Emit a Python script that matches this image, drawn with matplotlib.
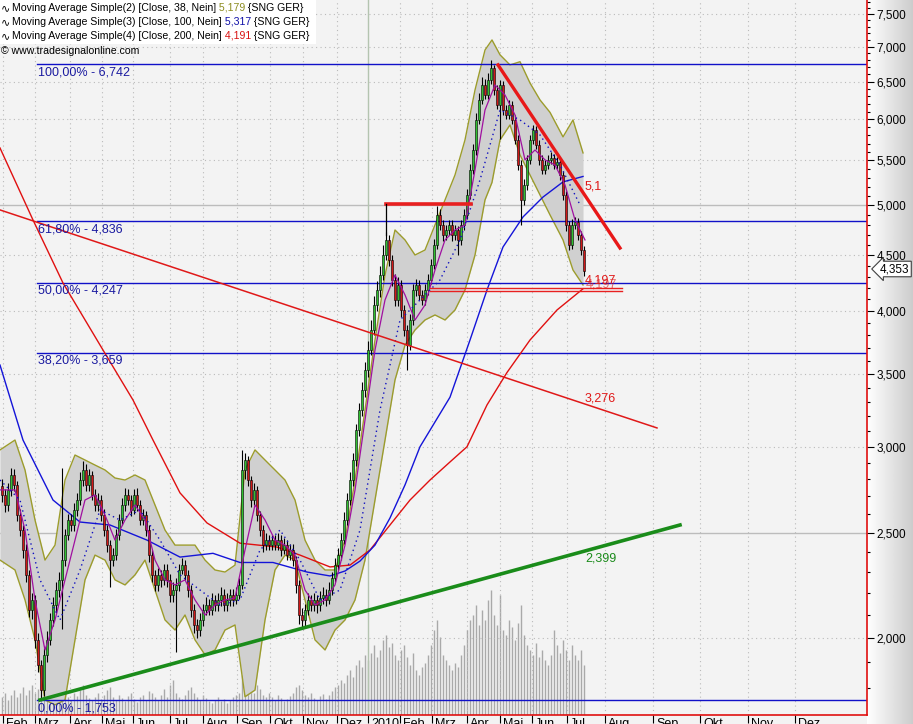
import numpy as np
import matplotlib
matplotlib.use('Agg')
import matplotlib.pyplot as plt
from matplotlib.ticker import FixedLocator, NullFormatter, FuncFormatter
from matplotlib.patches import Rectangle

plt.rcParams['font.family'] = ['Liberation Sans', 'DejaVu Sans']

# ---------------- data ----------------
month_labels = ['Feb', 'Mrz', 'Apr', 'Mai', 'Jun', 'Jul', 'Aug', 'Sep', 'Okt', 'Nov', 'Dez',
                '2010', 'Feb', 'Mrz', 'Apr', 'Mai', 'Jun', 'Jul', 'Aug', 'Sep', 'Okt', 'Nov', 'Dez']
month_pos = [0.33, 11, 22.67, 33.33, 43.67, 56, 67, 78.33, 89.33, 100.33, 111.67,
             122, 132.67, 143.33, 155, 166, 176.67, 188.33, 201, 217, 232.67, 248.67, 264.33]

opens = [2760, 2708, 2651, 2737, 2825, 2766, 2595, 2514, 2410, 2286,
         2122, 2168, 1992, 1889, 1791, 1930, 1992, 2078, 2145, 2214,
         2262, 2359, 2487, 2568, 2541, 2623, 2679, 2795, 2855, 2766,
         2825, 2708, 2651, 2679, 2595, 2514, 2435, 2359, 2384, 2487,
         2568, 2651, 2708, 2679, 2623, 2708, 2651, 2568, 2595, 2514,
         2384, 2286, 2238, 2286, 2262, 2310, 2262, 2191, 2214, 2238,
         2310, 2334, 2286, 2214, 2122, 2056, 2034, 2078, 2122, 2145,
         2122, 2168, 2145, 2168, 2191, 2145, 2168, 2191, 2168, 2191,
         2238, 2855, 2916, 2795, 2679, 2737, 2595, 2514, 2435, 2461,
         2435, 2461, 2435, 2461, 2410, 2435, 2384, 2410, 2359, 2238,
         2100, 2078, 2122, 2168, 2145, 2168, 2145, 2177, 2191, 2168,
         2214, 2272, 2334, 2384, 2461, 2568, 2679, 2795, 2916, 3107,
         3242, 3382, 3528, 3681, 3841, 4050, 4181, 4315, 4502, 4648,
         4455, 4270, 4093, 4225, 4007, 3841, 3720, 3923, 4181, 4225,
         4137, 4093, 4181, 4270, 4408, 4599, 4901, 4798, 4697, 4747,
         4798, 4697, 4747, 4648, 4798, 4901, 5113, 5391, 5624, 5993,
         6253, 6454, 6319, 6523, 6691, 6386, 6186, 6454, 6121, 6057,
         6186, 5993, 5745, 5448, 5059, 5222, 5507, 5745, 5868, 5684,
         5507, 5391, 5448, 5507, 5530, 5448, 5483, 5334, 5113, 4798,
         4599, 4798, 4829, 4697, 4550]
closes = [2708, 2651, 2737, 2825, 2766, 2595, 2514, 2410, 2286, 2122,
          2168, 1992, 1889, 1791, 1930, 1992, 2078, 2145, 2214, 2262,
          2359, 2487, 2568, 2541, 2623, 2679, 2795, 2855, 2766, 2825,
          2708, 2651, 2679, 2595, 2514, 2435, 2359, 2384, 2487, 2568,
          2651, 2708, 2679, 2623, 2708, 2651, 2568, 2595, 2514, 2384,
          2286, 2238, 2286, 2262, 2310, 2262, 2191, 2214, 2238, 2310,
          2334, 2286, 2214, 2122, 2056, 2034, 2078, 2122, 2145, 2122,
          2168, 2145, 2168, 2191, 2145, 2168, 2191, 2168, 2191, 2238,
          2855, 2916, 2795, 2679, 2737, 2595, 2514, 2435, 2461, 2435,
          2461, 2435, 2461, 2410, 2435, 2384, 2410, 2359, 2238, 2100,
          2078, 2122, 2168, 2145, 2168, 2145, 2177, 2191, 2168, 2214,
          2272, 2334, 2384, 2461, 2568, 2679, 2795, 2916, 3107, 3242,
          3382, 3528, 3681, 3841, 4050, 4181, 4315, 4502, 4648, 4455,
          4270, 4093, 4225, 4007, 3841, 3720, 3923, 4181, 4225, 4137,
          4093, 4181, 4270, 4408, 4599, 4901, 4798, 4697, 4747, 4798,
          4697, 4747, 4648, 4798, 4901, 5113, 5391, 5624, 5993, 6253,
          6454, 6319, 6523, 6691, 6386, 6186, 6454, 6121, 6057, 6186,
          5993, 5745, 5448, 5059, 5222, 5507, 5745, 5868, 5684, 5507,
          5391, 5448, 5507, 5530, 5448, 5483, 5334, 5113, 4798, 4599,
          4798, 4829, 4697, 4550, 4353]
highs = [2800, 2740, 2780, 2870, 2860, 2790, 2630, 2540, 2440, 2310,
         2200, 2190, 2020, 1910, 1960, 2030, 2110, 2180, 2250, 2300,
         2870, 2520, 2600, 2600, 2660, 2720, 2840, 2910, 2890, 2860,
         2850, 2740, 2720, 2710, 2630, 2540, 2460, 2420, 2520, 2600,
         2690, 2750, 2740, 2710, 2740, 2750, 2680, 2630, 2620, 2540,
         2410, 2310, 2320, 2310, 2340, 2340, 2290, 2250, 2270, 2340,
         2370, 2360, 2310, 2240, 2150, 2080, 2110, 2150, 2180, 2170,
         2200, 2190, 2200, 2230, 2220, 2200, 2220, 2220, 2230, 2270,
         2980, 2960, 2940, 2820, 2780, 2760, 2620, 2540, 2500, 2490,
         2490, 2490, 2500, 2490, 2470, 2460, 2440, 2440, 2380, 2260,
         2130, 2150, 2200, 2190, 2200, 2190, 2210, 2230, 2220, 2250,
         2300, 2370, 2420, 2500, 2610, 2720, 2840, 2960, 3150, 3290,
         3440, 3590, 3750, 3920, 4130, 4260, 4400, 4600, 4730, 4700,
         4500, 4320, 4300, 4270, 4050, 3880, 3970, 4230, 4280, 4270,
         4180, 4230, 4320, 4460, 4660, 4990, 4960, 4850, 4800, 4850,
         4850, 4800, 4790, 4850, 4960, 5180, 5460, 5700, 6080, 6340,
         6560, 6540, 6620, 6800, 6740, 6450, 6520, 6510, 6180, 6250,
         6240, 6050, 5800, 5500, 5290, 5570, 5810, 5930, 5920, 5740,
         5560, 5510, 5570, 5600, 5580, 5540, 5530, 5380, 5160, 4840,
         4860, 4880, 4870, 4740, 4590]
lows = [2670, 2610, 2620, 2700, 2730, 2560, 2480, 2370, 2250, 2090,
        2080, 1960, 1860, 1753, 1770, 1900, 1970, 2050, 2110, 2180,
        2040, 2330, 2460, 2510, 2510, 2590, 2650, 2760, 2730, 2730,
        2680, 2620, 2620, 2560, 2480, 2400, 2230, 2330, 2360, 2460,
        2540, 2620, 2650, 2590, 2600, 2620, 2540, 2540, 2480, 2350,
        2250, 2210, 2210, 2230, 2240, 2230, 2160, 2160, 1940, 2210,
        2290, 2260, 2180, 2090, 2020, 2000, 2010, 2050, 2100, 2100,
        2100, 2120, 2120, 2140, 2120, 2120, 2140, 2140, 2150, 2170,
        2220, 2800, 2760, 2640, 2650, 2560, 2480, 2400, 2410, 2410,
        2410, 2410, 2410, 2380, 2390, 2360, 2360, 2330, 2200, 2060,
        2040, 2050, 2100, 2120, 2120, 2110, 2120, 2150, 2140, 2150,
        2190, 2250, 2310, 2360, 2440, 2540, 2650, 2760, 2880, 3070,
        3200, 3330, 3480, 3640, 3800, 4000, 4120, 4270, 4450, 4400,
        4220, 4040, 4040, 3950, 3790, 3530, 3680, 3880, 4130, 4090,
        4050, 4050, 4140, 4230, 4370, 4560, 4750, 4640, 4650, 4700,
        4640, 4650, 4500, 4600, 4750, 4860, 5070, 5340, 5570, 5940,
        6200, 6260, 6270, 6470, 6320, 6130, 5750, 6060, 6000, 6000,
        5940, 5690, 5390, 4800, 5000, 5170, 5460, 5690, 5630, 5450,
        5340, 5340, 5400, 5460, 5400, 5400, 5280, 5060, 4740, 4550,
        4560, 4760, 4650, 4500, 4310]
volume = [180, 220, 150, 200, 250, 180, 220, 280, 200, 250,
          300, 220, 260, 350, 280, 200, 240, 180, 220, 160,
          200, 300, 180, 150, 220, 190, 250, 300, 200, 170,
          150, 180, 220, 160, 200, 250, 280, 180, 150, 200,
          170, 140, 190, 220, 160, 130, 180, 200, 150, 240,
          220, 180, 150, 200, 260, 180, 300, 350, 220, 180,
          160, 200, 250, 280, 220, 180, 150, 200, 170, 140,
          120, 150, 180, 140, 160, 120, 150, 180, 200, 220,
          400, 350, 280, 250, 220, 300, 260, 200, 180, 220,
          180, 150, 200, 170, 140, 160, 190, 220, 280, 300,
          250, 200, 180, 220, 170, 150, 190, 210, 160, 200,
          240, 280, 300, 350, 320, 400, 450, 380, 500, 550,
          480, 600, 550, 620, 700, 580, 650, 750, 800, 680,
          720, 600, 550, 650, 700, 580, 500, 620, 450, 400,
          480, 520, 600, 700, 850, 950, 780, 600, 550, 500,
          450, 520, 480, 600, 700, 850, 950, 1000, 1100, 900,
          1050, 950, 1150, 1250, 1000, 900, 1200, 850, 800, 950,
          880, 750, 920, 1100, 800, 700, 650, 600, 720, 580,
          650, 550, 500, 600, 850, 700, 620, 750, 650, 550,
          700, 600, 550, 650, 500]

# moving averages / bands (sampled along the bar axis)
ma200_x = [-0.67, 10.33, 20.33, 33.67, 43.67, 50.33, 59.33, 68.33, 79.33, 91.67, 99.33, 109.33,
           116, 122.67, 129.33, 136, 142.67, 149.33, 155, 161.67, 168.33, 176, 185, 193.67]
ma200_y = [5648, 4849, 4243, 3681, 3311, 3042, 2720, 2552, 2445, 2425, 2384, 2325,
           2334, 2410, 2541, 2679, 2795, 2904, 2999, 3277, 3510, 3760, 4007, 4191]
ma100_x = [-0.67, 7, 17, 26, 36, 48.33, 59.33, 70.33, 79.33, 90.33, 101.67, 109.33, 114.33,
           119.33, 124.33, 129.33, 134.33, 139.33, 149.33, 156, 161.67, 167, 173.67, 180.33, 187, 193.67]
ma100_y = [3566, 3042, 2679, 2557, 2541, 2461, 2374, 2393, 2347, 2347, 2300, 2281, 2305,
           2354, 2435, 2579, 2766, 2999, 3331, 3760, 4181, 4579, 4880, 5090, 5256, 5317]
fast_x = [-0.67, 4.33, 7.67, 11, 14.33, 17.67, 21, 24.33, 27.67, 31, 34.33, 37.67, 41, 44.33, 47.67,
          51, 54.33, 57.67, 61, 64.33, 67.67, 71, 74.33, 77.67, 81, 84.33, 87.67, 91, 94.33, 97.67,
          101, 104.33, 107.67, 111, 114.33, 117.67, 121, 124.33, 127.67, 131, 134.33, 137.67, 141,
          144.33, 147.67, 151, 154.33, 157.67, 161, 164.33, 167.67, 171, 174.33, 177.67, 181,
          184.33, 187.67, 191, 194.33]
fast_y = [2737, 2737, 2514, 2168, 1950, 2078, 2262, 2461, 2679, 2708, 2595, 2461, 2568, 2651, 2568,
          2359, 2262, 2238, 2262, 2168, 2100, 2145, 2168, 2177, 2410, 2651, 2568, 2461, 2435, 2384,
          2214, 2145, 2168, 2238, 2435, 2737, 3174, 3681, 4093, 4315, 4137, 3923, 4050,
          4361, 4648, 4747, 4798, 5391, 6121, 6454, 6319, 6057, 5507, 5624, 5507,
          5448, 5222, 4849, 4648]
ma20_x = [-0.67, 6, 12.67, 19.33, 26, 32.67, 39.33, 46, 52.67, 59.33, 66, 72.67, 79.33, 86, 92.67,
          99.33, 106, 112.67, 119.33, 126, 132.67, 139.33, 146, 152.67, 159.33, 166, 172.67,
          179.33, 186, 192.67]
ma20_y = [2795, 2679, 2262, 2078, 2310, 2623, 2568, 2623, 2461, 2286, 2214, 2145, 2168, 2410, 2514,
          2359, 2168, 2214, 2514, 3242, 3923, 4093, 4270, 4648, 5278, 6121, 5993,
          5806, 5448, 5006]
band_x = [-0.67, 4.33, 7.67, 11, 14.33, 17.67, 21, 24.33, 27.67, 31, 34.33, 37.67, 41, 44.33, 47.67,
          51, 54.33, 57.67, 61, 64.33, 67.67, 71, 74.33, 77.67, 81, 84.33, 87.67, 91, 94.33, 97.67,
          101, 104.33, 107.67, 111, 114.33, 117.67, 121, 124.33, 127.67, 131, 134.33, 137.67, 141,
          144.33, 147.67, 151, 154.33, 157.67, 161, 163.33, 166, 169.33, 172.67, 176, 179.33,
          182.67, 187, 190.33, 193.67]
band_upper = [2979, 3042, 2855, 2568, 2359, 2435, 2795, 2947, 2916, 2885, 2855, 2807, 2795, 2825, 2795,
              2651, 2514, 2435, 2435, 2435, 2359, 2310, 2300, 2334, 2855, 2979, 2916, 2855, 2795, 2679,
              2461, 2359, 2310, 2310, 2461, 2795, 3242, 3760, 4315, 4747, 4648, 4502, 4550,
              4798, 5059, 5334, 5745, 6386, 6950, 7100, 6880, 6734, 6780, 6481, 6253,
              6090, 5782, 5993, 5589]
band_lower = [2359, 2310, 2168, 1992, 1754, 1736, 1754, 1992, 2262, 2384, 2359, 2262, 2238, 2286, 2359,
              2214, 2078, 2034, 2100, 1992, 1930, 1950, 2034, 2056, 1766, 1791, 2078, 2310, 2384, 2359,
              2168, 1992, 1950, 2034, 2078, 2168, 2359, 2679, 3042, 3455, 3720, 3841, 3923,
              3965, 3923, 4007, 4181, 4502, 5059, 5250, 5745, 5930, 5565, 5334, 5113,
              4901, 4648, 4361, 4225]

fib_levels = [6742, 4836, 4247, 3659, 1753]
fib_labels = ['100,00% - 6,742', '61,80% - 4,836', '50,00% - 4,247', '38,20% - 3,659', '0,00% - 1,753']

resist_line = ([-0.67, 218.33], [4953, 3121])
support_line = ([12.67, 226], [1754, 2541])
down_line = ([165.33, 206], [6734, 4569])
double_lines = [4197, 4171]
top_line = 5016
last_price = 4353

# ---------------- figure ----------------
W, H = 913, 724
fig = plt.figure(figsize=(W / 100, H / 100), dpi=100)
fig.patch.set_facecolor('#f3f3f3')

gax = fig.add_axes([867 / W, 0, (W - 867) / W, 1], zorder=0)
grad = np.linspace(1.0, 0.80, 256).reshape(1, -1)
gax.imshow(grad, aspect='auto', cmap='gray', vmin=0, vmax=1, extent=[0, 1, 0, 1])
gax.axis('off')

rect = [0, 9 / H, 867 / W, 715 / H]
axv = fig.add_axes(rect, zorder=1)
axv.set_facecolor('#dcdcdc')
ax = fig.add_axes(rect, zorder=2)
ax.set_facecolor('none')

xlim = (-0.667, 288.33)
for a in (axv, ax):
    a.set_xlim(*xlim)

# volume
xs = np.arange(len(closes))
axv.vlines(xs, 0, volume, color='#a9a9a9', lw=1.0)
axv.set_ylim(0, 7150)
axv.axis('off')

ax.set_yscale('log')
ax.set_ylim(1699, 7727)

# grid
for v in range(2000, 7600, 500):
    if v in (2500, 5000):
        ax.axhline(v, color='#bcbcbc', lw=1.0, zorder=0.5)
    else:
        ax.axhline(v, color='#bababa', lw=0.8, ls=(0, (1, 3)), zorder=0.5)
for p, lab in zip(month_pos, month_labels):
    if lab == '2010':
        ax.axvline(p, color='#b4c4b0', lw=1.0, zorder=0.5)
    else:
        ax.axvline(p, color='#bababa', lw=0.8, ls=(0, (1, 3)), zorder=0.5)

# bands
ax.fill_between(band_x, band_lower, band_upper, color='#d0d0d0', lw=0, zorder=1)
ax.plot(band_x, band_upper, color='#9c9c2c', lw=1.0, zorder=1.5)
ax.plot(band_x, band_lower, color='#9c9c2c', lw=1.0, zorder=1.5)

# fib lines
fib_start = 11.67
for lv, lab in zip(fib_levels, fib_labels):
    ax.plot([fib_start, xlim[1]], [lv, lv], color='#1010c8', lw=1.0, zorder=2)
    ax.annotate(lab, xy=(fib_start, lv), xytext=(1, -2), textcoords='offset pixels',
                va='top', ha='left', fontsize=9, color='#1a1aa0', zorder=6)

# moving averages
ax.plot(ma200_x, ma200_y, color='#e01010', lw=1.0, zorder=3)
ax.plot(ma100_x, ma100_y, color='#1414d8', lw=1.0, zorder=3)

# candles
cols = ['#30c030' if c >= o else '#d01818' for o, c in zip(opens, closes)]
ax.vlines(xs, lows, highs, color='black', lw=0.8, zorder=4)
bottoms = np.minimum(opens, closes)
heights = np.abs(np.array(closes) - np.array(opens))
heights = np.maximum(heights, 8)
ax.bar(xs, heights, bottom=bottoms, width=0.72, color=cols, edgecolor='black', lw=0.4, zorder=4.5)

ax.plot(fast_x, fast_y, color='#a010a0', lw=0.9, zorder=5)
ax.plot(ma20_x, ma20_y, color='#1010c0', lw=1.0, ls=(0, (1, 2.5)), zorder=5)

# trend lines
ax.plot(*resist_line, color='#e01818', lw=1.1, zorder=5)
ax.plot(*support_line, color='#1a8c1a', lw=2.6, zorder=5)
ax.plot(*down_line, color='#e81818', lw=2.4, zorder=5)
for lv in double_lines:
    ax.plot([142.67, 206.67], [lv, lv], color='#e82020', lw=1.0, zorder=5)
ax.plot([128, 156.33], [top_line, top_line], color='#e82020', lw=2.6, zorder=5)
ax.plot([128, 128], [top_line, 4697], color='black', lw=0.9, zorder=5)

lab_x = 194.3
ax.text(lab_x, 5200, '5,1', color='#e01818', fontsize=9, va='center', ha='left', zorder=6)
ax.text(lab_x, 4262, '4,197', color='#e01818', fontsize=9, va='center', ha='left', zorder=6)
ax.text(lab_x + 0.4, 4232, '4,197', color='#e01818', fontsize=9, va='center', ha='left', zorder=6, alpha=0.6)
ax.text(lab_x, 3324, '3,276', color='#e01818', fontsize=9, va='center', ha='left', zorder=6)
ax.text(lab_x, 2368, '2,399', color='#1a8a1a', fontsize=9, va='center', ha='left', zorder=6)

# axes styling
for s in ('top', 'left'):
    ax.spines[s].set_visible(False)
ax.spines['right'].set_color('#e01010')
ax.spines['bottom'].set_color('#e01010')
ax.spines['right'].set_linewidth(1.2)
ax.spines['bottom'].set_linewidth(1.2)

ax.yaxis.tick_right()
major = list(range(2000, 7600, 500))
ax.yaxis.set_major_locator(FixedLocator(major))
ax.yaxis.set_major_formatter(FuncFormatter(lambda v, p: f'{int(round(v)):,}'))
ax.yaxis.set_minor_locator(FixedLocator([v for v in range(1800, 7701, 100) if v % 500]))
ax.yaxis.set_minor_formatter(NullFormatter())
ax.tick_params(axis='y', which='major', direction='out', length=5, width=0.8, pad=2,
               labelsize=8.5, colors='black')
ax.tick_params(axis='y', which='minor', direction='out', length=2.5, width=0.8, colors='black')

ax.xaxis.set_major_locator(FixedLocator(month_pos))
ax.xaxis.set_minor_locator(FixedLocator([]))
ax.tick_params(axis='x', which='major', direction='out', length=6, width=0.8, labelbottom=False)
for p, lab in zip(month_pos, month_labels):
    ax.annotate(lab, xy=(p, 0), xycoords=('data', 'axes fraction'), xytext=(3, -3),
                textcoords='offset pixels', va='top', ha='left', fontsize=9, annotation_clip=False)

# current price marker
fig.text(880 / W, 1 - 269 / H, f'{last_price:,}', fontsize=8.5, va='center', ha='left', zorder=10,
         bbox=dict(boxstyle='larrow,pad=0.15', fc='white', ec='#404040', lw=0.8))

# legend block
fig.patches.append(Rectangle((0, 1 - 44 / H), 316 / W, 44 / H, transform=fig.transFigure,
                             facecolor='white', edgecolor='none', zorder=8))
renderer = fig.canvas.get_renderer()
legend_rows = [
    ('Moving Average Simple(2) [Close, 38, Nein]', '5,179', '#8c8c20'),
    ('Moving Average Simple(3) [Close, 100, Nein]', '5,317', '#1010a8'),
    ('Moving Average Simple(4) [Close, 200, Nein]', '4,191', '#d81010'),
]
for i, (txt, val, col) in enumerate(legend_rows):
    y = 1 - (8 + 14 * i) / H
    fig.text(1 / W, y, '\u223f', fontsize=8, va='center', ha='left', zorder=9,
             family=['DejaVu Sans'])
    x = 12
    for part, c in ((txt, 'black'), (' ' + val, col), (' {SNG GER}', 'black')):
        t = fig.text(x / W, y, part, fontsize=7.6, color=c, va='center', ha='left', zorder=9)
        x += t.get_window_extent(renderer=renderer).width
fig.text(1 / W, 1 - 51 / H, '\u00a9 www.tradesignalonline.com', fontsize=7.6, va='center',
         ha='left', zorder=9)

fig.savefig('out.png', dpi=100, facecolor=fig.get_facecolor())
